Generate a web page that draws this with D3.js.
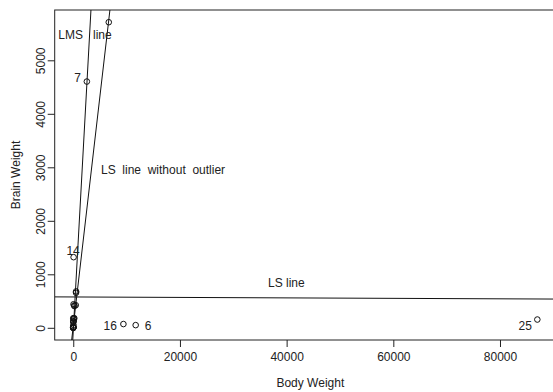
<!DOCTYPE html>
<html>
<head>
<meta charset="utf-8">
<script src="https://cdn.jsdelivr.net/npm/d3@7/dist/d3.min.js"></script>
<style>
  html, body { margin: 0; padding: 0; background: #fff; }
  svg text { font-family: "Liberation Sans", Arial, Helvetica, sans-serif; fill: #222; }
</style>
</head>
<body>
<script>
// Animals: body weight (kg) and brain weight (g), 28 species
const ids   = [1,2,3,4,5,6,7,8,9,10,11,12,13,14,15,16,17,18,19,20,21,22,23,24,25,26,27,28];
const body  = [1.35,465,36.33,27.66,1.04,11700,2547,187.1,521,10,3.3,529,207,62,6654,9400,6.8,35,0.12,0.023,2.5,55.5,100,52.16,87000,0.122,192,0.28];
const brain = [8.1,423,119.5,115,5.5,50,4603,419,655,115,25.6,680,406,1320,5712,70,179,56,1,0.4,12.1,175,157,440,154.5,3,180,1.9];

// fitted lines: [intercept, slope]
const lineNames  = ["LS", "LS without outlier", "LMS"];
const lineCoefs  = [[576.4, -0.000433], [29, 0.86], [-60, 1.81]];

// labelled observations
const labelIds = [6, 7, 14, 16, 25];

const xTicks = [0, 20000, 40000, 60000, 80000];
const yTicks = [0, 1000, 2000, 3000, 4000, 5000];

const W = 553, H = 392;
const svg = d3.select("body").append("svg").attr("width", W).attr("height", H);

// R-style 4% padding on both data ranges
const pad = (lo, hi) => { const r = (hi - lo) * 0.04; return [lo - r, hi + r]; };
const xDom = pad(d3.min(body), d3.max(body));
const yDom = pad(d3.min(brain), d3.max(brain));

const pLeft = 54.7, pRight = 555.9, pTop = 10, pBottom = 340;
const x = d3.scaleLinear().domain(xDom).range([pLeft, pRight]);
const y = d3.scaleLinear().domain(yDom).range([pBottom, pTop]);

svg.append("clipPath").attr("id", "plotclip")
  .append("rect").attr("x", pLeft).attr("y", pTop).attr("width", pRight - pLeft).attr("height", pBottom - pTop);

// box around the plot region
svg.append("rect")
  .attr("x", pLeft).attr("y", pTop).attr("width", pRight - pLeft).attr("height", pBottom - pTop)
  .attr("fill", "none").attr("stroke", "#222").attr("stroke-width", 1);

// axes
const xAxis = d3.axisBottom(x).tickValues(xTicks).tickSize(7).tickPadding(5).tickFormat(d3.format("d"));
const gx = svg.append("g").attr("transform", `translate(0,${pBottom})`).call(xAxis);
gx.select(".domain").remove();
gx.selectAll("line").attr("stroke", "#222");
gx.selectAll("text").attr("font-size", 12).attr("fill", "#222")
  .attr("font-family", "Liberation Sans, Arial, sans-serif");

const yAxis = d3.axisLeft(y).tickValues(yTicks).tickSize(7).tickFormat(d3.format("d"));
const gy = svg.append("g").attr("transform", `translate(${pLeft},0)`).call(yAxis);
gy.select(".domain").remove();
gy.selectAll("line").attr("stroke", "#222");
gy.selectAll("text").remove();
gy.selectAll(".tick").append("text")
  .attr("transform", "translate(-10,0) rotate(-90)")
  .attr("text-anchor", "middle")
  .attr("font-size", 12)
  .text(d => d3.format("d")(d));

// axis titles
svg.append("text").attr("x", (pLeft + 566) / 2).attr("y", 387)
  .attr("text-anchor", "middle").attr("font-size", 12).text("Body Weight");
svg.append("text").attr("transform", `translate(20,${(pTop + pBottom) / 2}) rotate(-90)`)
  .attr("text-anchor", "middle").attr("font-size", 12).text("Brain Weight");

// fitted lines
const gl = svg.append("g").attr("clip-path", "url(#plotclip)");
lineCoefs.forEach(([a, b]) => {
  const x0 = xDom[0], x1 = xDom[1];
  gl.append("line")
    .attr("x1", x(x0)).attr("y1", y(a + b * x0))
    .attr("x2", x(x1)).attr("y2", y(a + b * x1))
    .attr("stroke", "#111").attr("stroke-width", 1);
});

// points
const pts = ids.map((id, i) => ({ id, bw: body[i], br: brain[i] }));
svg.append("g").selectAll("circle").data(pts).join("circle")
  .attr("cx", d => x(d.bw)).attr("cy", d => y(d.br)).attr("r", 2.8)
  .attr("fill", "none").attr("stroke", "#111").attr("stroke-width", 1);

// point labels: anchor and pixel offset from the point
const labelPlace = {
  6:  { anchor: "start",  dx: 9,    dy: 4.5 },
  7:  { anchor: "end",    dx: -6,   dy: 0.5 },
  14: { anchor: "middle", dx: -0.5, dy: -2 },
  16: { anchor: "end",    dx: -6.5, dy: 5.5 },
  25: { anchor: "end",    dx: -5.5, dy: 10 }
};
svg.append("g").selectAll("text").data(pts.filter(d => labelIds.includes(d.id))).join("text")
  .attr("x", d => x(d.bw) + labelPlace[d.id].dx)
  .attr("y", d => y(d.br) + labelPlace[d.id].dy)
  .attr("text-anchor", d => labelPlace[d.id].anchor)
  .attr("font-size", 12)
  .text(d => d.id);

// line annotations (spacing between words kept as written)
const ann = svg.append("g").attr("font-size", 12);
const note = (px, py, s) => ann.append("text")
  .attr("xml:space", "preserve").style("white-space", "pre")
  .attr("x", px).attr("y", py).text(s);
note(58.3, 39.3, "LMS   line");
note(101, 174, "LS  line  without  outlier");
note(268, 286.5, "LS line");
</script>
</body>
</html>
